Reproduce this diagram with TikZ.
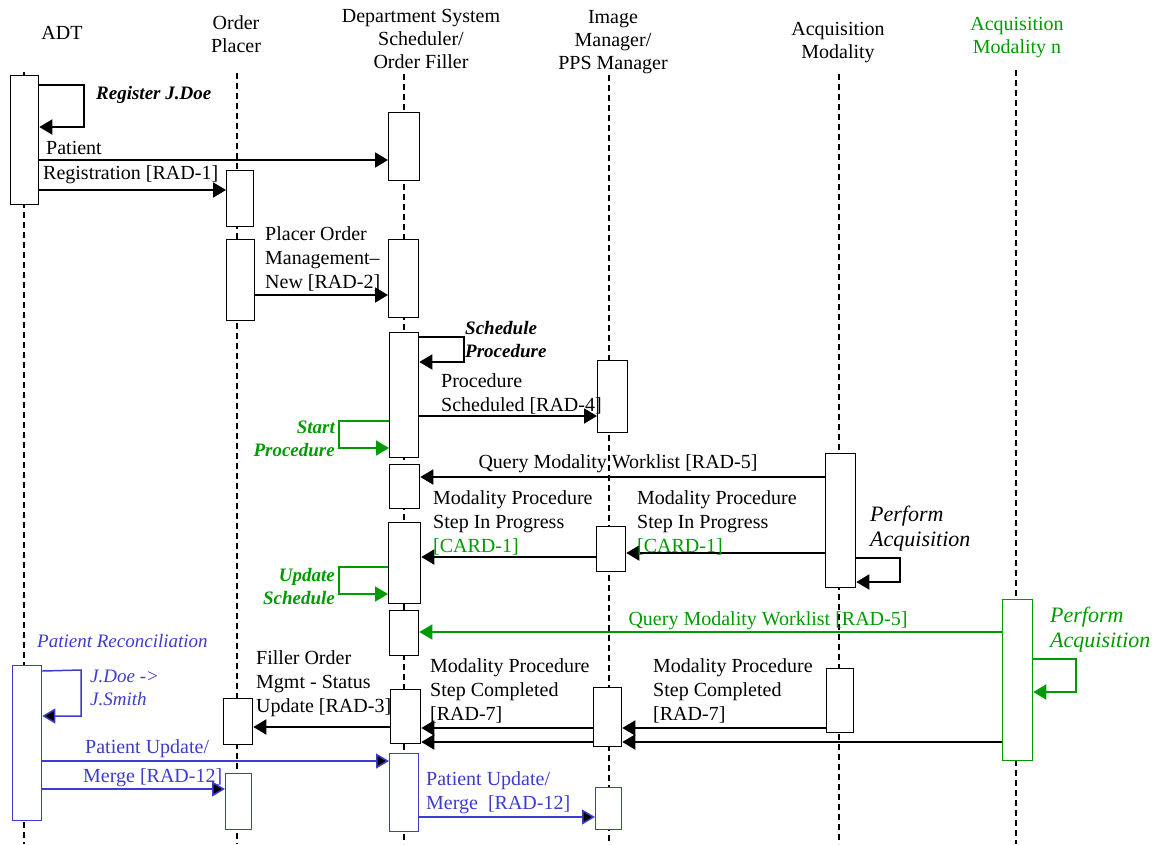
\documentclass[tikz,border=0pt]{standalone}
\usepackage{fontspec}
\setmainfont{Liberation Serif}
\usetikzlibrary{arrows.meta}
\definecolor{gr}{RGB}{0,155,0}
\definecolor{bl}{RGB}{60,60,205}
\begin{document}
\begin{tikzpicture}[x=1pt,y=-1pt,
  life/.style={line width=2.4pt, dash pattern=on 6pt off 4pt},
  act/.style={draw, line width=1.3pt, fill=white, inner sep=0, anchor=north west},
  tip/.style={-{Triangle[length=13pt,width=15pt]}},
  msg/.style={line width=1.9pt, tip},
  gmsg/.style={line width=1.6pt, draw=gr, -{Triangle[length=13pt,width=15pt,fill=gr]}},
  bmsg/.style={line width=1.5pt, draw=bl, -{Triangle[length=13pt,width=15pt,fill=black]}},
  hdr/.style={font=\fontsize{20}{23}\selectfont, align=center, inner sep=0, anchor=north},
  lbl/.style={font=\fontsize{20}{24}\selectfont, align=left, inner sep=0},
  bit/.style={font=\fontsize{19}{23}\selectfont\bfseries\itshape, align=left, inner sep=0},
  itl/.style={font=\fontsize{22}{25}\selectfont\itshape, align=left, inner sep=0},
  sit/.style={font=\fontsize{19}{23}\selectfont\itshape, align=left, inner sep=0}
]
\useasboundingbox (0,0) rectangle (1158,844);

% headers
\node[lbl, anchor=center] (hADT) at (62,33) {ADT};
\node[hdr] (hOP) at (236,15) {Order\\Placer};
\node[hdr] (hDSS) at (421,9) {Department System\\Scheduler/\\Order Filler};
\node[hdr] (hIM) at (613,10) {Image\\Manager/\\PPS Manager};
\node[hdr] (hAM) at (838,22) {Acquisition\\Modality};
\node[hdr, text=gr] (hAN) at (1017,17) {Acquisition\\Modality n};

% lifelines
\draw[life] (24,72) coordinate (lADT) -- (24,844);
\draw[life] (237,73) coordinate (lOP) -- (237,844);
\draw[life] (404,74) coordinate (lDSS) -- (404,844);
\draw[life] (609,75) coordinate (lIM) -- (609,844);
\draw[life] (839,74) coordinate (lAM) -- (839,844);
\draw[life] (1016,70) coordinate (lAN) -- (1016,844);

% activation boxes
\node[act, minimum width=28pt, minimum height=129pt] (A1) at (10,75) {};
\node[act, draw=bl, minimum width=29pt, minimum height=155pt] (A2) at (12,665) {};
\node[act, minimum width=27pt, minimum height=56pt] (P1) at (226,170) {};
\node[act, minimum width=28pt, minimum height=81pt] (P2) at (226,239) {};
\node[act, minimum width=29pt, minimum height=46pt] (P3) at (223,698) {};
\node[act, draw=bl, minimum width=26pt, minimum height=56pt] (P4) at (225,773) {};
\node[act, minimum width=31pt, minimum height=68pt] (D1) at (388,112) {};
\node[act, minimum width=30pt, minimum height=78pt] (D2) at (388,239) {};
\node[act, minimum width=29pt, minimum height=125pt] (D3) at (389,332) {};
\node[act, minimum width=30pt, minimum height=44pt] (D4) at (389,464) {};
\node[act, minimum width=32pt, minimum height=81pt] (D5) at (388,522) {};
\node[act, minimum width=29pt, minimum height=45pt] (D6) at (389,610) {};
\node[act, minimum width=30pt, minimum height=54pt] (D7) at (390,689) {};
\node[act, draw=bl, minimum width=29pt, minimum height=78pt] (D8) at (389,753) {};
\node[act, minimum width=30pt, minimum height=72pt] (I1) at (597,360) {};
\node[act, minimum width=29pt, minimum height=45pt] (I2) at (596,526) {};
\node[act, minimum width=28pt, minimum height=59pt] (I3) at (593,687) {};
\node[act, draw=bl, minimum width=26pt, minimum height=42pt] (I4) at (595,787) {};
\node[act, minimum width=30pt, minimum height=134pt] (M1) at (825,453) {};
\node[act, minimum width=27pt, minimum height=64pt] (M2) at (826,668) {};
\node[act, draw=gr, minimum width=30pt, minimum height=161pt] (N1) at (1002,599) {};

% Register J.Doe
\draw[msg] (A1.east |- 0,85) -- (84,85) -- (84,127) -- (A1.east |- 0,127);
\node[bit, anchor=west] (tReg) at (96,95) {Register J.Doe};

% Patient Registration
\draw[msg] (A1.east |- 0,160) -- (D1.west |- 0,160);
\draw[msg] (A1.east |- 0,190) -- (P1.west |- 0,190);
\node[lbl, anchor=west] (tPat) at (46,148) {Patient};
\node[lbl, anchor=west] (tReg1) at (43,175) {Registration [RAD-1]};

% Placer order
\draw[msg] (P2.east |- 0,295) -- (D2.west |- 0,295);
\node[lbl, anchor=north west] (tPO) at (265,226) {Placer Order\\Management--\\New [RAD-2]};

% Schedule Procedure
\draw[msg] (D3.east |- 0,337) -- (464,337) -- (464,362) -- (D3.east |- 0,362);
\node[bit, anchor=north west] (tSP) at (465,321) {Schedule\\Procedure};

% Procedure Scheduled
\draw[msg] (D3.east |- 0,416) -- (I1.west |- 0,416);
\node[lbl, anchor=north west] (tPS) at (441,373) {Procedure\\Scheduled [RAD-4]};

% Start Procedure
\draw[gmsg] (D3.west |- 0,421) -- (339,421) -- (339,448) -- (D3.west |- 0,448);
\node[bit, text=gr, align=right, anchor=north east] (tStart) at (335,421) {Start\\Procedure};

% Query Modality Worklist
\draw[msg] (M1.west |- 0,477) -- (D4.east |- 0,477);
\node[lbl, anchor=center] (tQ1) at (618,464) {Query Modality Worklist [RAD-5]};

% MPPS in progress
\draw[msg] (M1.west |- 0,553) -- (I2.east |- 0,553);
\draw[msg] (I2.west |- 0,557) -- (D5.east |- 0,557);
\node[lbl, anchor=north west] (tIP1) at (433,490) {Modality Procedure\\Step In Progress\\\textcolor{gr}{[CARD-1]}};
\node[lbl, anchor=north west] (tIP2) at (637,490) {Modality Procedure\\Step In Progress\\\textcolor{gr}{[CARD-1]}};

% Perform Acquisition
\draw[msg] (M1.east |- 0,558) -- (900,558) -- (900,582) -- (M1.east |- 0,582);
\node[itl, anchor=north west] (tPA1) at (870,506) {Perform\\Acquisition};

% Update Schedule
\draw[gmsg] (D5.west |- 0,567) -- (339,567) -- (339,594) -- (D5.west |- 0,594);
\node[bit, text=gr, align=right, anchor=north east] (tUS) at (335,568) {Update\\Schedule};

% Query Modality Worklist n
\draw[gmsg] (N1.west |- 0,632) -- (D6.east |- 0,632);
\node[lbl, text=gr, anchor=center] (tQ2) at (768,621) {Query Modality Worklist [RAD-5]};

% Perform Acquisition n
\draw[gmsg] (N1.east |- 0,659) -- (1076,659) -- (1076,692) -- (N1.east |- 0,692);
\node[itl, text=gr, anchor=north west] (tPA2) at (1050,607) {Perform\\Acquisition};

% Patient Reconciliation
\node[sit, text=bl, anchor=west] (tPR) at (37,641) {Patient Reconciliation};
\draw[bmsg] (A2.east |- 0,671) -- (81,670) -- (81,716) -- (A2.east |- 0,716);
\node[sit, text=bl, anchor=north west] (tJD) at (90,670) {J.Doe ->\\J.Smith};

% Filler order status
\draw[msg] (D7.west |- 0,727) -- (P3.east |- 0,727);
\node[lbl, anchor=north west] (tFO) at (256,650) {Filler Order\\Mgmt - Status\\Update [RAD-3]};

% MPPS completed
\draw[msg] (I3.west |- 0,728) -- (D7.east |- 0,728);
\draw[msg] (M2.west |- 0,728) -- (I3.east |- 0,728);
\draw[msg] (N1.west |- 0,742) -- (I3.east |- 0,742);
\draw[msg] (I3.west |- 0,742) -- (D7.east |- 0,742);
\node[lbl, anchor=north west] (tC1) at (430,658) {Modality Procedure\\Step Completed\\{[RAD-7]}};
\node[lbl, anchor=north west] (tC2) at (653,658) {Modality Procedure\\Step Completed\\{[RAD-7]}};

% Patient update / merge
\draw[bmsg] (A2.east |- 0,761) -- (D8.west |- 0,761);
\draw[bmsg] (A2.east |- 0,789) -- (P4.west |- 0,789);
\node[lbl, text=bl, anchor=west] (tPU1) at (85,749) {Patient Update/};
\node[lbl, text=bl, anchor=west] (tPU2) at (83,778) {Merge [RAD-12]};
\draw[bmsg] (D8.east |- 0,817) -- (I4.west |- 0,817);
\node[lbl, text=bl, anchor=north west] (tPU3) at (426,771) {Patient Update/\\Merge\ \ [RAD-12]};
\end{tikzpicture}
\end{document}
